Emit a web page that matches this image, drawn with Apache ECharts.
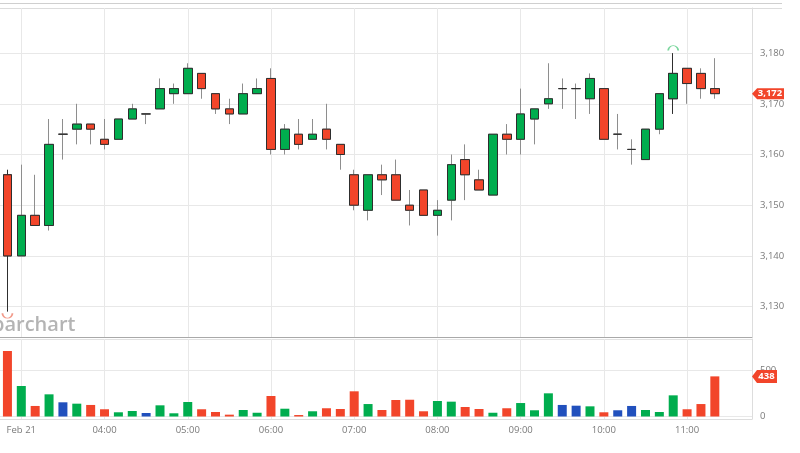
<!DOCTYPE html>
<html><head><meta charset="utf-8">
<script src="https://cdn.jsdelivr.net/npm/echarts@6/dist/echarts.min.js"></script>
<style>html,body{margin:0;padding:0;background:#fff}#c{width:800px;height:453px}</style>
</head><body><div id="c"></div>
<script>
// ---- data ----
const times = ['02:50','03:00','03:10','03:20','03:30','03:40','03:50','04:00','04:10','04:20','04:30','04:40','04:50',
  '05:00','05:10','05:20','05:30','05:40','05:50','06:00','06:10','06:20','06:30','06:40','06:50',
  '07:00','07:10','07:20','07:30','07:40','07:50','08:00','08:10','08:20','08:30','08:40','08:50',
  '09:00','09:10','09:20','09:30','09:40','09:50','10:00','10:10','10:20','10:30','10:40','10:50',
  '11:00','11:10','11:20'];
const opens  = [3156,3140,3148,3146,3164,3165,3166,3163,3163,3167,3168,3169,3172,3172,3176,3172,3169,3168,3172,3175,3161,3164,3163,3165,3162,3156,3149,3156,3156,3150,3153,3148,3151,3159,3155,3152,3164,3163,3167,3170,3173,3173,3171,3173,3164,3161,3159,3165,3171,3177,3176,3173];
const closes = [3140,3148,3146,3162,3164,3166,3165,3162,3167,3169,3168,3173,3173,3177,3173,3169,3168,3172,3173,3161,3165,3162,3164,3163,3160,3150,3156,3155,3151,3149,3148,3149,3158,3156,3153,3164,3163,3168,3169,3171,3173,3173,3175,3163,3164,3161,3165,3172,3176,3174,3173,3172];
const lows   = [3129,3140,3146,3145,3159,3162,3162,3161,3163,3167,3166,3169,3170,3172,3171,3168,3166,3168,3172,3160,3160,3161,3163,3161,3157,3149,3147,3152,3151,3146,3148,3144,3147,3151,3153,3152,3160,3160,3162,3169,3169,3167,3168,3163,3161,3158,3159,3164,3168,3170,3171,3171];
const highs  = [3157,3158,3156,3167,3167,3170,3166,3167,3167,3170,3168,3175,3174,3178,3176,3172,3171,3174,3175,3177,3166,3167,3167,3170,3162,3157,3156,3158,3159,3153,3153,3151,3160,3162,3157,3164,3166,3173,3169,3178,3175,3174,3176,3173,3168,3163,3165,3172,3180,3177,3177,3179];
const volumes = [715,333,115,242,155,140,126,79,46,60,38,122,35,158,79,49,20,71,41,224,85,16,57,90,82,275,136,71,180,183,57,169,162,104,82,41,90,147,68,253,126,118,111,46,68,115,71,49,231,79,136,438];
const tickTimes  = ['03:00','04:00','05:00','06:00','07:00','08:00','09:00','10:00','11:00'];
const tickLabels = ['Feb 21','04:00','05:00','06:00','07:00','08:00','09:00','10:00','11:00'];
const priceTicks = [3130,3140,3150,3160,3170,3180];
const volumeTicks = [0,500];

// ---- build ----
const toMin = s => { const p = s.split(':').map(Number); return p[0]*60 + p[1]; };
const xs = times.map(toMin);
const tickXs = tickTimes.map(toMin);
const X_MIN = 164.64, X_MAX = 706.8;
const UP = '#00ad4e', DOWN = '#f2452a', FLAT = '#2150bd';
const n = xs.length;
let hiIdx = 0, loIdx = 0;
highs.forEach((h,i)=>{ if(h>highs[hiIdx]) hiIdx=i; });
lows.forEach((l,i)=>{ if(l<lows[loIdx]) loIdx=i; });

const fullData = xs.map((x,i)=>{
  const item = {value:[x, opens[i], closes[i], lows[i], highs[i]]};
  if (i===hiIdx || i===loIdx) item.itemStyle = {borderColor:'#2e2e2e', borderColor0:'#2e2e2e', borderColorDoji:'#2e2e2e'};
  return item;
});
const bodyData = xs.map((x,i)=>[x, opens[i], closes[i], Math.min(opens[i],closes[i]), Math.max(opens[i],closes[i])]);
const volData = xs.map((x,i)=>({
  value:[x, volumes[i]],
  itemStyle:{color: closes[i]>opens[i]?UP:(closes[i]<opens[i]?DOWN:FLAT)}
}));
const lastPrice = closes[n-1], lastVol = volumes[n-1];

const labelFont = {fontFamily:'Open Sans', fontSize:9.5, color:'#7a7a7a'};
const gridLine = {show:true, lineStyle:{color:'#e8e8e8', width:1}};

const chart = echarts.init(document.getElementById('c'), null, {renderer:'canvas'});
chart.setOption({
  animation:false,
  backgroundColor:'#fff',
  grid:[
    {left:0, right:48, top:8, bottom:116},
    {left:0, right:48, top:339, bottom:34}
  ],
  xAxis:[
    {type:'value', gridIndex:0, min:X_MIN, max:X_MAX,
     axisLine:{show:true, onZero:false, lineStyle:{color:'#a9a9a9'}},
     axisTick:{show:false, customValues:tickXs},
     axisLabel:{show:false, customValues:tickXs},
     splitLine:gridLine},
    {type:'value', gridIndex:1, min:X_MIN, max:X_MAX,
     axisLine:{show:true, onZero:false, lineStyle:{color:'#dddddd'}},
     axisTick:{show:false, customValues:tickXs},
     axisLabel:Object.assign({show:true, margin:6, customValues:tickXs,
       formatter:v=>tickLabels[tickXs.indexOf(v)]}, labelFont),
     splitLine:gridLine}
  ],
  yAxis:[
    {type:'value', gridIndex:0, position:'right', min:3124, max:3188.9, scale:true,
     axisLine:{show:true, lineStyle:{color:'#dddddd'}},
     axisTick:{show:false, customValues:priceTicks},
     axisLabel:Object.assign({margin:8, customValues:priceTicks,
       formatter:v=>v.toLocaleString('en-US')}, labelFont),
     splitLine:gridLine},
    {type:'value', gridIndex:1, position:'right', min:-27.3, max:846,
     axisLine:{show:true, lineStyle:{color:'#dddddd'}},
     axisTick:{show:false, customValues:volumeTicks},
     axisLabel:Object.assign({margin:8, customValues:volumeTicks}, labelFont),
     splitLine:gridLine}
  ],
  graphic:[
    {type:'line', shape:{x1:0,y1:3.5,x2:782,y2:3.5}, style:{stroke:'#cfcfcf', lineWidth:1}, silent:true},
    {type:'line', shape:{x1:0,y1:8.5,x2:782,y2:8.5}, style:{stroke:'#dcdcdc', lineWidth:1}, silent:true},
    {type:'line', shape:{x1:0,y1:339.5,x2:752,y2:339.5}, style:{stroke:'#e2e2e2', lineWidth:1}, silent:true},
    {type:'text', x:-8, y:325, z:1, silent:true,
     style:{text:'barchart', fontFamily:'Open Sans', fontSize:20, fontWeight:600, fill:'#b4b4b4', verticalAlign:'middle'}}
  ],
  series:[
    {type:'candlestick', xAxisIndex:0, yAxisIndex:0, barWidth:9, encode:{x:0, y:[1,2,3,4]},
     data:fullData,
     itemStyle:{color:UP, color0:DOWN, borderColor:'#8e8e8e', borderColor0:'#8e8e8e', borderColorDoji:'#8e8e8e', borderWidth:1},
     markPoint:{
       symbolKeepAspect:false,
       label:{show:false},
       data:[
         {coord:[xs[hiIdx], highs[hiIdx]], symbol:'path://M0,10 A10,10 0 0 1 20,10', symbolSize:[10,5], symbolOffset:[0,-5],
          itemStyle:{color:'rgba(0,0,0,0)', borderColor:'#79d69c', borderWidth:1.3}},
         {coord:[xs[loIdx], lows[loIdx]], symbol:'path://M0,0 A10,10 0 0 0 20,0', symbolSize:[10,5], symbolOffset:[0,4],
          itemStyle:{color:'rgba(0,0,0,0)', borderColor:'#f29a8a', borderWidth:1.3}}
       ]
     }},
    {type:'candlestick', xAxisIndex:0, yAxisIndex:0, barWidth:9, encode:{x:0, y:[1,2,3,4]},
     data:bodyData,
     itemStyle:{color:UP, color0:DOWN, borderColor:'#2e2e2e', borderColor0:'#2e2e2e', borderColorDoji:'#2e2e2e', borderWidth:1},
     markPoint:{
       data:[{coord:[X_MAX-0.01, lastPrice], symbol:'path://M0,5 L5,0 L31,0 L31,10 L5,10 Z', symbolKeepAspect:false,
         symbolSize:[32,11], symbolOffset:[16,0], itemStyle:{color:DOWN},
         label:{show:true, position:'inside', offset:[2,0], formatter:lastPrice.toLocaleString('en-US'),
           color:'#fff', fontWeight:'bold', fontSize:9.5, fontFamily:'Open Sans'}}]
     }},
    {type:'bar', xAxisIndex:1, yAxisIndex:1, barWidth:9, data:volData,
     markPoint:{
       data:[{coord:[X_MAX-0.01, lastVol], symbol:'path://M0,5 L5,0 L25,0 L25,10 L5,10 Z', symbolKeepAspect:false,
         symbolSize:[25,13], symbolOffset:[12.5,0], itemStyle:{color:DOWN},
         label:{show:true, position:'inside', offset:[2,0], formatter:String(lastVol),
           color:'#fff', fontWeight:'bold', fontSize:9.5, fontFamily:'Open Sans'}}]
     }}
  ]
});
</script>
</body></html>
